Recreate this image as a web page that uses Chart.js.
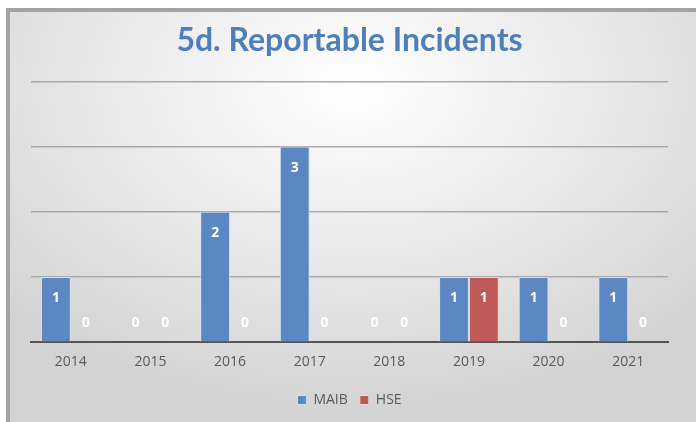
<!DOCTYPE html>
<html>
<head>
<meta charset="utf-8">
<script src="https://cdn.jsdelivr.net/npm/chart.js@4.4.1/dist/chart.umd.min.js"></script>
<style>
  html, body { margin: 0; padding: 0; background: #fff; }
  .frame {
    position: absolute; left: 6px; top: 8px; width: 690px; height: 414px;
    box-sizing: border-box;
    border-left: 4px solid #a3a3a3; border-top: 4px solid #a3a3a3;
    background: radial-gradient(ellipse 70% 80% at 50% 18%, #ffffff 0%, #ececec 45%, #d3d3d3 100%);
  }
  canvas { position: absolute; left: 0; top: 0; }
</style>
</head>
<body>
<div class="frame"></div>
<canvas id="chart" width="696" height="422"></canvas>
<script>
// chart data
const years = ['2014', '2015', '2016', '2017', '2018', '2019', '2020', '2021'];
const maib = [1, 0, 2, 3, 0, 1, 1, 1];
const hse = [0, 0, 0, 0, 0, 1, 0, 0];
const yTicks = [0, 1, 2, 3, 4];

// white value labels, "inside end" like the original
const valueLabels = {
  id: 'valueLabels',
  afterDatasetsDraw(chart) {
    const ctx = chart.ctx;
    ctx.save();
    ctx.font = 'bold 14px "Open Sans", sans-serif';
    ctx.fillStyle = '#ffffff';
    ctx.textAlign = 'center';
    ctx.textBaseline = 'middle';
    chart.data.datasets.forEach((ds, i) => {
      chart.getDatasetMeta(i).data.forEach((bar, j) => {
        const v = ds.data[j];
        const y = v > 0 ? bar.y + 21 : bar.base - 19;
        ctx.fillText(String(v), bar.x, y);
      });
    });
    ctx.restore();
  }
};

new Chart(document.getElementById('chart'), {
  type: 'bar',
  data: {
    labels: years,
    datasets: [
      { label: 'MAIB', data: maib, backgroundColor: '#5b87c2', borderColor: '#d6e0ee', borderWidth: 1 },
      { label: 'HSE', data: hse, backgroundColor: '#c05a58', borderColor: '#ecd8d8', borderWidth: 1 }
    ]
  },
  options: {
    responsive: false,
    animation: false,
    layout: { padding: { left: 31, right: 28, top: 17, bottom: 5 } },
    datasets: { bar: { categoryPercentage: 0.75, barPercentage: 1 } },
    plugins: {
      title: {
        display: true,
        text: '5d. Reportable Incidents',
        color: '#4f7fbb',
        font: { family: 'Lato', size: 32, weight: 'bold' },
        padding: { top: 4, bottom: 22 }
      },
      legend: {
        position: 'bottom',
        labels: {
          boxWidth: 9, boxHeight: 9, padding: 12,
          color: '#595959',
          font: { family: '"Open Sans"', size: 14 }
        }
      },
      tooltip: { enabled: false }
    },
    scales: {
      x: {
        grid: { display: false },
        border: { color: '#555555', width: 2 },
        ticks: { color: '#595959', font: { family: '"Open Sans"', size: 14 }, padding: 3 },
        afterFit(axis) { axis.height += 8; }
      },
      y: {
        min: 0, max: 4,
        afterBuildTicks(axis) { axis.ticks = yTicks.map(v => ({ value: v })); },
        ticks: { display: false },
        border: { display: false },
        grid: { color: '#a9a9a9', lineWidth: 1.5, drawTicks: false }
      }
    }
  },
  plugins: [valueLabels]
});
</script>
</body>
</html>
